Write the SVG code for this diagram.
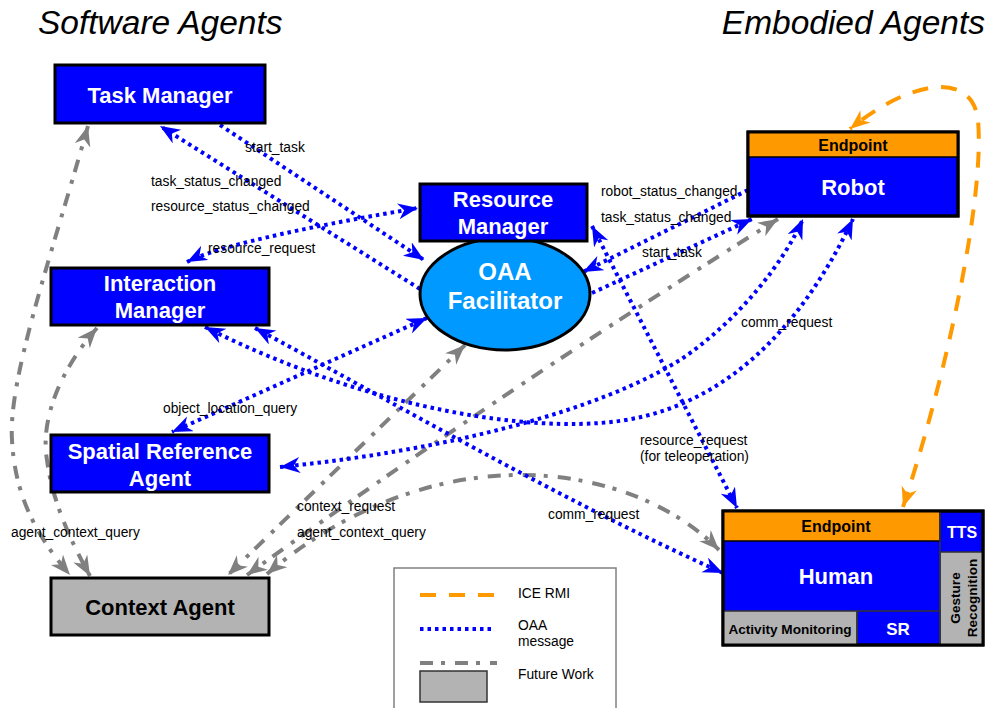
<svg xmlns="http://www.w3.org/2000/svg" width="987" height="708" viewBox="0 0 987 708">
<style>
.bg{fill:#ffffff}
.node{fill:#0000ff;stroke:#000;stroke-width:3}
.gnode{fill:#b3b3b3;stroke:#000;stroke-width:3}
.lbl{font-family:"Liberation Sans",Arial,sans-serif;font-weight:bold;font-size:22px;fill:#fff;text-anchor:middle}
.blk{fill:#000}
.sm{font-family:"Liberation Sans",Arial,sans-serif;font-size:13.8px;fill:#000}
.title{font-family:"Liberation Sans",Arial,sans-serif;font-style:italic;font-size:33.5px;fill:#000}
.oaa{fill:none;stroke:#0000ff;stroke-width:4;stroke-dasharray:3.5 4}
.ice{fill:none;stroke:#ff9900;stroke-width:4;stroke-dasharray:16 13}
.fut{fill:none;stroke:#808080;stroke-width:4;stroke-dasharray:13 8 4 10}
.mb{marker-start:url(#ab);marker-end:url(#ab)}
.me{marker-end:url(#ab)}
.mg{marker-start:url(#ag);marker-end:url(#ag)}
.mo{marker-start:url(#ao);marker-end:url(#ao)}
</style>
<defs>
<marker id="ab" markerUnits="userSpaceOnUse" markerWidth="22" markerHeight="18" refX="20" refY="8" orient="auto-start-reverse"><path d="M0,0 L20,8 L0,16 L6,8 Z" fill="#0000ff"/></marker>
<marker id="ag" markerUnits="userSpaceOnUse" markerWidth="22" markerHeight="18" refX="20" refY="8" orient="auto-start-reverse"><path d="M0,0 L20,8 L0,16 L6,8 Z" fill="#808080"/></marker>
<marker id="ao" markerUnits="userSpaceOnUse" markerWidth="22" markerHeight="18" refX="20" refY="8" orient="auto-start-reverse"><path d="M0,0 L20,8 L0,16 L6,8 Z" fill="#ff9900"/></marker>
</defs>
<rect class="bg" x="0" y="0" width="987" height="708"/>
<text class="title" x="38" y="34">Software Agents</text>
<text class="title" x="985" y="34" text-anchor="end">Embodied Agents</text>

<g id="connectors">
<path class="fut mg" d="M88,126 C50,260 8,380 12,440 C15,500 40,540 70,575"/>
<path class="fut mg" d="M97,328 C60,370 40,420 47,460 C52,500 70,540 90,576"/>
<path class="fut mg" d="M465,345 L228,575"/>
<path class="fut mg" d="M778,219 C600,330 420,450 247,575"/>
<path class="fut mg" d="M267,574 C330,520 420,475 520,475 C610,475 680,510 719,550"/>
<path class="oaa me" d="M220,125 L424,260"/>
<path class="oaa me" d="M420,289 L160,126"/>
<path class="oaa mb" d="M187,262 Q230,240 418,208"/>
<path class="oaa me" d="M748,190 L583,272"/>
<path class="oaa me" d="M592,293 L752,219"/>
<path class="oaa mb" d="M592,226 L737,508"/>
<path class="oaa mb" d="M427,318 L172,432"/>
<path class="oaa mb" d="M280,467 C450,450 600,410 680,360 C740,320 785,260 803,219"/>
<path class="oaa mb" d="M205,327 C350,400 500,430 600,423 C720,415 800,330 853,219"/>
<path class="oaa mb" d="M255,328 C380,395 560,500 723,573"/>
<path class="ice mo" d="M903,507 C945,380 985,200 978,120 C972,70 910,80 850,129"/>
</g>

<g id="taskManager"><rect class="node" x="55" y="65" width="210" height="58"/><text class="lbl" x="160" y="103">Task Manager</text></g>
<g id="interactionManager"><rect class="node" x="51" y="268" width="218" height="57"/><text class="lbl" x="160" y="291">Interaction</text><text class="lbl" x="160" y="318">Manager</text></g>
<g id="spatialReferenceAgent"><rect class="node" x="51" y="435" width="218" height="57"/><text class="lbl" x="160" y="459">Spatial Reference</text><text class="lbl" x="160" y="486">Agent</text></g>
<g id="contextAgent"><rect class="gnode" x="51" y="578" width="218" height="57"/><text class="lbl blk" x="160" y="615">Context Agent</text></g>
<g id="oaaFacilitator"><ellipse cx="505" cy="294" rx="85" ry="56" fill="#0099ff" stroke="#000" stroke-width="3"/><text class="lbl" x="505" y="280" style="font-size:24px">OAA</text><text class="lbl" x="505" y="309" style="font-size:24px">Facilitator</text></g>
<g id="resourceManager"><rect class="node" x="420" y="184" width="167" height="57"/><text class="lbl" x="503" y="207">Resource</text><text class="lbl" x="503" y="234">Manager</text></g>
<g id="robot"><rect class="node" x="748" y="132" width="210" height="84"/><rect x="748" y="132" width="210" height="25" fill="#ff9900" stroke="#000" stroke-width="1.5"/><rect x="748" y="132" width="210" height="84" fill="none" stroke="#000" stroke-width="3"/><text class="lbl blk" x="853" y="151" style="font-size:16px">Endpoint</text><text class="lbl" x="853" y="195">Robot</text></g>
<g id="human"><rect class="node" x="723" y="511" width="260" height="134"/>
<rect x="723" y="511" width="217" height="30" fill="#ff9900" stroke="#000" stroke-width="1.5"/>
<rect x="940" y="552" width="43" height="93" fill="#b3b3b3" stroke="#333" stroke-width="1.5"/>
<rect x="723" y="611" width="134" height="34" fill="#b3b3b3" stroke="#333" stroke-width="1.5"/>
<rect x="857" y="611" width="83" height="34" fill="none" stroke="#333" stroke-width="1.5"/>
<line x1="940" y1="511" x2="940" y2="645" stroke="#333" stroke-width="1.5"/>
<rect x="723" y="511" width="260" height="134" fill="none" stroke="#000" stroke-width="3"/>
<text class="lbl blk" x="836" y="532" style="font-size:16px">Endpoint</text>
<text class="lbl" x="836" y="584">Human</text>
<text class="lbl" x="962" y="538" style="font-size:16px">TTS</text>
<text class="lbl blk" x="790" y="634" style="font-size:13.6px">Activity Monitoring</text>
<text class="lbl" x="898" y="635" style="font-size:17px">SR</text>
<g transform="translate(962,598) rotate(-90)"><text class="lbl blk" x="0" y="-2" style="font-size:13.6px">Gesture</text><text class="lbl blk" x="0" y="15" style="font-size:13.6px">Recognition</text></g>
</g>

<g id="labels">
<text class="sm" x="245" y="152">start_task</text>
<text class="sm" x="151" y="186">task_status_changed</text>
<text class="sm" x="151" y="211">resource_status_changed</text>
<text class="sm" x="208" y="253">resource_request</text>
<text class="sm" x="601" y="196">robot_status_changed</text>
<text class="sm" x="601" y="222">task_status_changed</text>
<text class="sm" x="642" y="257">start_task</text>
<text class="sm" x="741" y="327">comm_request</text>
<text class="sm" x="163" y="413">object_location_query</text>
<text class="sm" x="640" y="445">resource_request</text>
<text class="sm" x="640" y="461">(for teleoperation)</text>
<text class="sm" x="548" y="519">comm_request</text>
<text class="sm" x="297" y="511">context_request</text>
<text class="sm" x="297" y="537">agent_context_query</text>
<text class="sm" x="11" y="537">agent_context_query</text>
</g>

<g id="legend">
<rect x="394" y="568" width="222" height="150" fill="#fff" stroke="#808080" stroke-width="1.5"/>
<line class="ice" x1="420" y1="595" x2="497" y2="595"/>
<line class="oaa" x1="420" y1="629" x2="494" y2="629"/>
<line class="fut" x1="420" y1="663" x2="497" y2="663"/>
<rect x="420" y="671" width="67" height="31" fill="#b3b3b3" stroke="#333" stroke-width="1.5"/>
<text class="sm" x="518" y="598">ICE RMI</text>
<text class="sm" x="518" y="630">OAA</text>
<text class="sm" x="518" y="646">message</text>
<text class="sm" x="518" y="679">Future Work</text>
</g>
</svg>
